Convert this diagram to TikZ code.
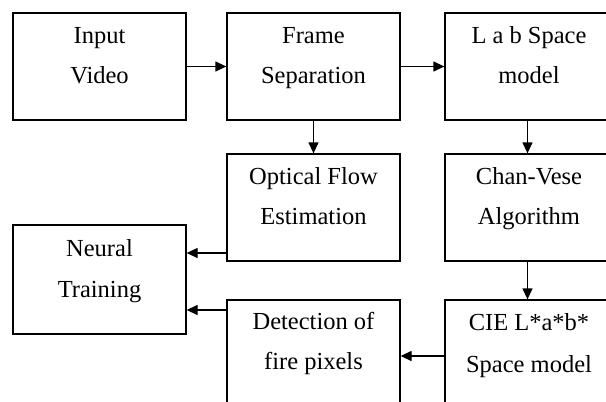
\documentclass[tikz,border=0pt]{standalone}
\usepackage{fontspec}
\setmainfont{Liberation Serif}
\usetikzlibrary{arrows.meta}
\begin{document}
\begin{tikzpicture}[x=1pt,y=-1pt,
  box/.style={draw=black, line width=1.3pt, minimum width=173pt, minimum height=107pt, inner sep=0pt},
  wbox/.style={box, minimum width=165pt},
  txt/.style={anchor=base, inner sep=0pt, font=\fontsize{24.5}{29}\selectfont},
  arr/.style={line width=1.3pt, -{Triangle[length=11pt,width=10pt]}}]
\useasboundingbox (0,0) rectangle (606,402);
\clip (0,0) rectangle (606,402);
\fill[white] (0,0) rectangle (606,402);
% boxes
\node[box] (b1) at (99.5,66.5) {};
\node[box] (b2) at (313.5,66.5) {};
\node[wbox] (b3) at (527.5,66.5) {};
\node[box] (b4) at (313.5,207.5) {};
\node[wbox] (b5) at (527.5,207.5) {};
\node[box, minimum height=109pt] (b6) at (99.5,279.5) {};
\node[box] (b7) at (313.5,353.5) {};
\node[wbox] (b8) at (527.5,353.5) {};
% texts
\node[txt] (t1a) at (99.5,43) {Input};
\node[txt] (t1b) at (99.5,83) {Video};
\node[txt] (t2a) at (313.5,43) {Frame};
\node[txt] (t2b) at (313.5,83) {Separation};
\node[txt] (t3a) at (529,43) {L a b Space};
\node[txt] (t3b) at (529,83) {model};
\node[txt] (t4a) at (313.5,184) {Optical Flow};
\node[txt] (t4b) at (313.5,224) {Estimation};
\node[txt] (t5a) at (529,184) {Chan-Vese};
\node[txt] (t5b) at (529,224) {Algorithm};
\node[txt] (t6a) at (99.5,256) {Neural};
\node[txt] (t6b) at (99.5,297) {Training};
\node[txt] (t7a) at (313.5,329) {Detection of};
\node[txt] (t7b) at (313.5,369) {fire pixels};
\node[txt] (t8a) at (529,330) {CIE L*a*b*};
\node[txt] (t8b) at (529,372) {Space model};
% connectors
\draw[arr] (b1) -- (b2);
\draw[arr] (b2) -- (b3);
\draw[arr] (b2) -- (b4);
\draw[arr] (b3) -- (b5);
\draw[arr] (b5) -- (b8);
\draw[arr] (b4.west |- 0,253) -- (b6.east |- 0,253);
\draw[arr] (b7.west |- 0,310) -- (b6.east |- 0,310);
\draw[arr] (b8.west |- 0,356) -- (b7.east |- 0,356);
\end{tikzpicture}
\end{document}
